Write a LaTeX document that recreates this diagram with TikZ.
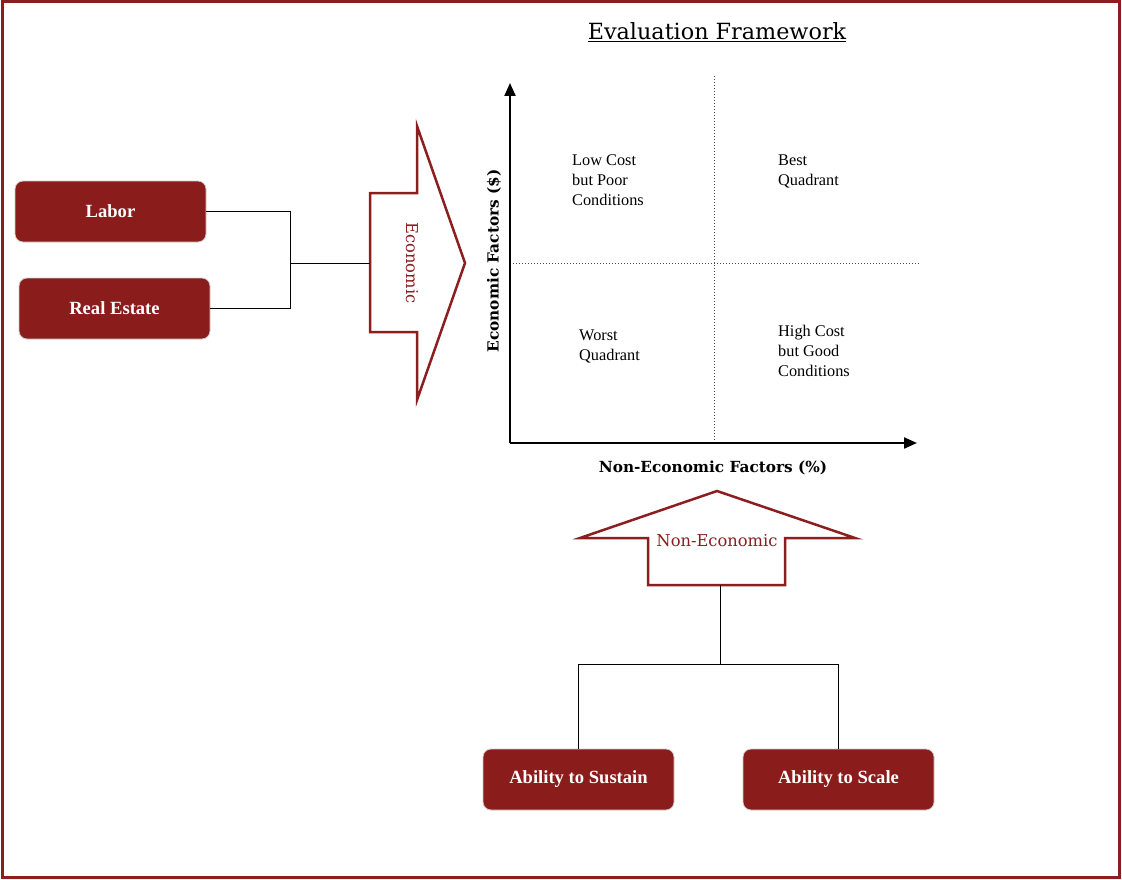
\documentclass[tikz,border=0pt]{standalone}
\usepackage{fontspec}
\setmainfont{Liberation Serif}
\newfontfamily\dserif{DejaVu Serif}
\usetikzlibrary{arrows.meta}
\definecolor{boxred}{HTML}{8A1C1C}
\definecolor{linered}{HTML}{8B1E1E}
\tikzset{
  redbox/.style={draw=black!20, line width=0.8pt, fill=boxred, rounded corners=8pt,
    minimum width=191pt, minimum height=61pt, inner sep=0pt, text=white,
    font=\fontsize{18.6}{20}\selectfont\bfseries},
  bigarrow/.style={draw=linered, line width=2.5pt, fill=white, line join=miter},
  conn/.style={draw=black, line width=1pt},
  quad/.style={font=\fontsize{16.3}{19.8}\selectfont, align=left, anchor=north west, inner sep=0pt},
  axis/.style={line width=2.2pt, -{Triangle[length=13pt,width=11pt]}},
  grid/.style={line width=1pt, dotted, black!70},
  axlabel/.style={font=\dserif\fontsize{15.3}{17}\selectfont\bfseries},
  arrlabel/.style={font=\dserif\fontsize{16.3}{18}\selectfont, text=linered}
}
\begin{document}
\begin{tikzpicture}[x=1pt,y=-1pt]
\useasboundingbox (0,0) rectangle (1122,880);
\draw[linered, line width=3pt] (2,2) rectangle (1119,877);

% title
\node (title) at (717,32) {\dserif\fontsize{22.3}{26}\selectfont\underline{Evaluation Framework}};

% left boxes
\node[redbox] (labor) at (110.5,211.5) {\raisebox{-1pt}{Labor}};
\node[redbox] (re) at (114.5,308.5) {\raisebox{-1pt}{Real Estate}};

% economic arrow
\draw[bigarrow] (370,193) -- (417,193) -- (417,126) -- (465,263) -- (417,400) -- (417,332) -- (370,332) -- cycle;
\coordinate (econtail) at (370,263);
\node[arrlabel, rotate=-90] (econ) at (412,263) {Economic};

\coordinate (jl) at (290,263);
\draw[conn] (labor.east) -| (jl);
\draw[conn] (re.east) -| (jl);
\draw[conn] (jl) -- (econtail);

% axes
\coordinate (origin) at (510,443);
\coordinate (ytop) at (510,83);
\coordinate (xend) at (917,443);
\draw[grid] (714,76) -- (714,443);
\draw[grid] (510,263) -- (920,263);
\draw[axis] (origin) -- (ytop);
\draw[axis] (origin) -- (xend);

\node[axlabel, rotate=90] (ylab) at (494,261) {Economic Factors (\$)};
\node[axlabel] (xlab) at (713,468) {Non-Economic Factors (\%)};

% quadrants
\node[quad] (q1) at (572,155) {Low Cost\\but Poor\\Conditions};
\node[quad] (q2) at (778,155) {Best\\Quadrant};
\node[quad] (q3) at (579,330) {Worst\\Quadrant};
\node[quad] (q4) at (778,325) {High Cost\\but Good\\Conditions};

% non-economic arrow
\draw[bigarrow] (580,538) -- (717,491) -- (855,538) -- (785,538) -- (785,585) -- (648,585) -- (648,538) -- cycle;
\node[arrlabel] (nonecon) at (717,541) {Non-Economic};
\coordinate (netail) at (720,585);
\coordinate (jb) at (720,664);

% bottom boxes
\node[redbox] (sustain) at (578.5,779.5) {\raisebox{-1pt}{Ability to Sustain}};
\node[redbox] (scale) at (838.5,779.5) {\raisebox{-1pt}{Ability to Scale}};

\draw[conn] (netail) -- (jb);
\draw[conn] (sustain.north) |- (jb);
\draw[conn] (scale.north) |- (jb);
\end{tikzpicture}
\end{document}
